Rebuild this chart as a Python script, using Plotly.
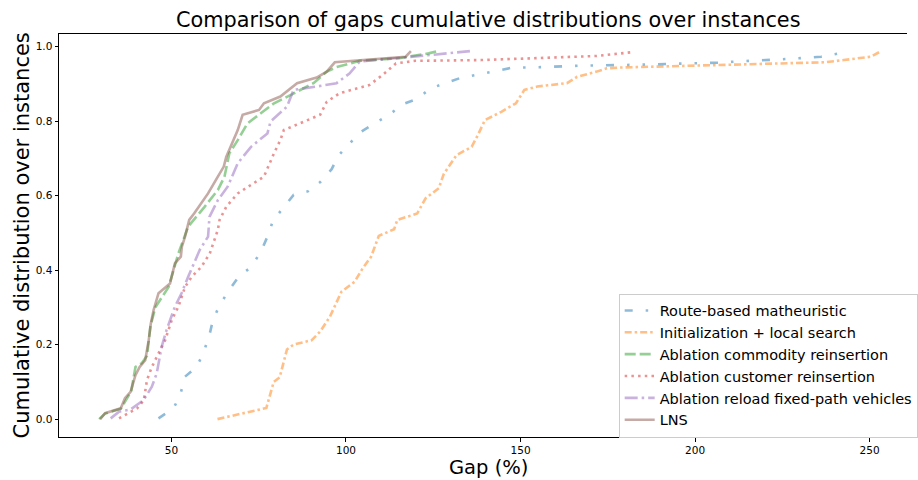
import plotly.graph_objects as go

# ---- data ----
route_x = [46.3, 50.6, 52.5, 53.9, 57.2, 59.1, 60.9, 61.9, 63.8, 66.6, 69.4, 72.7, 75.6, 77.6, 79.1, 82.0, 85.0, 89.2,
           92.7, 95.9, 97.8, 100.6, 104.4, 108.2, 112.4, 116.2, 120.4, 124.2, 129.4, 133.1, 138.4, 143.6, 147.8, 152.9,
           158.2, 167.2, 181.3, 196.9, 206.7, 211.6, 216.9, 221.3, 226.5, 231.7, 236.1, 241.3]
route_y = [0.002, 0.029, 0.064, 0.114, 0.14, 0.176, 0.226, 0.266, 0.306, 0.347, 0.384, 0.407, 0.449, 0.492, 0.533,
           0.568, 0.602, 0.612, 0.637, 0.671, 0.707, 0.736, 0.772, 0.794, 0.817, 0.845, 0.86, 0.888, 0.906, 0.917,
           0.926, 0.937, 0.944, 0.944, 0.946, 0.949, 0.951, 0.954, 0.957, 0.96, 0.962, 0.964, 0.967, 0.97, 0.973, 0.982]

init_x = [63.2, 77.2, 79.3, 81.0, 83.1, 85.0, 90.2, 92.6, 95.4, 98.7, 102.5, 104.8, 107.2, 109.4, 113.8, 114.7, 120.4,
          122.8, 126.6, 128.0, 131.7, 136.0, 137.8, 139.8, 144.5, 148.7, 151.1, 154.8, 163.3, 166.2, 171.8, 174.7,
          178.5, 208.7, 237.0, 242.6, 250.3, 253.1]
init_y = [0.0, 0.03, 0.1, 0.112, 0.187, 0.2, 0.212, 0.235, 0.275, 0.342, 0.369, 0.405, 0.436, 0.492, 0.51, 0.535, 0.552,
          0.593, 0.62, 0.658, 0.709, 0.731, 0.763, 0.803, 0.825, 0.848, 0.884, 0.893, 0.902, 0.919, 0.933, 0.942,
          0.944, 0.951, 0.958, 0.964, 0.973, 0.987]

comm_x = [29.3, 31.0, 35.5, 37.0, 38.5, 39.7, 41.5, 43.0, 44.0, 45.4, 49.2, 52.0, 54.8, 59.5, 63.3, 65.2, 66.6, 69.0,
          71.8, 75.6, 79.4, 84.1, 90.7, 94.5, 97.3, 103.9, 115.2, 123.7, 126.1]
comm_y = [0.0, 0.015, 0.028, 0.05, 0.075, 0.14, 0.15, 0.17, 0.25, 0.3, 0.355, 0.445, 0.517, 0.57, 0.615, 0.651, 0.714,
          0.749, 0.794, 0.821, 0.848, 0.87, 0.902, 0.933, 0.945, 0.962, 0.969, 0.982, 0.988]

cust_x = [35.0, 40.2, 42.1, 43.0, 44.4, 46.3, 48.2, 50.1, 52.0, 53.9, 55.8, 58.6, 61.0, 63.3, 63.8, 65.7, 69.0, 72.8,
          76.5, 79.4, 81.2, 82.2, 86.9, 92.6, 94.5, 98.2, 106.7, 110.5, 114.3, 119.9, 138.8, 167.0, 171.8, 181.8]
cust_y = [0.002, 0.029, 0.051, 0.105, 0.14, 0.176, 0.212, 0.266, 0.302, 0.355, 0.382, 0.409, 0.445, 0.508, 0.535, 0.57,
          0.606, 0.629, 0.651, 0.714, 0.749, 0.776, 0.794, 0.817, 0.852, 0.875, 0.897, 0.924, 0.955, 0.962, 0.964,
          0.973, 0.975, 0.985]

reload_x = [32.6, 35.0, 38.3, 42.0, 44.4, 45.8, 47.2, 48.6, 51.0, 52.9, 54.8, 58.1, 60.5, 60.9, 63.3, 66.1, 69.0, 72.8,
            77.5, 78.4, 83.1, 85.0, 91.6, 97.3, 101.0, 103.9, 124.6, 135.5]
reload_y = [0.002, 0.02, 0.026, 0.051, 0.087, 0.123, 0.194, 0.239, 0.302, 0.338, 0.382, 0.454, 0.49, 0.543, 0.588,
            0.624, 0.687, 0.731, 0.767, 0.799, 0.839, 0.884, 0.893, 0.902, 0.928, 0.96, 0.978, 0.988]

lns_x = [29.6, 31.0, 35.5, 36.7, 38.3, 39.7, 40.9, 42.5, 43.5, 44.1, 44.9, 46.3, 49.6, 51.0, 52.7, 53.0, 53.9, 55.1,
         56.5, 59.0, 60.5, 63.3, 65.0, 65.7, 67.0, 69.0, 70.4, 75.1, 76.5, 81.2, 86.0, 91.6, 94.5, 96.8, 117.1, 118.6]
lns_y = [0.0, 0.016, 0.029, 0.056, 0.073, 0.118, 0.14, 0.158, 0.212, 0.257, 0.293, 0.338, 0.364, 0.418, 0.436, 0.463,
         0.49, 0.535, 0.552, 0.588, 0.606, 0.651, 0.678, 0.704, 0.731, 0.776, 0.817, 0.83, 0.848, 0.866, 0.902, 0.917,
         0.933, 0.958, 0.973, 0.988]

series_names = ["Route-based matheuristic", "Initialization + local search", "Ablation commodity reinsertion",
                "Ablation customer reinsertion", "Ablation reload fixed-path vehicles", "LNS"]
x_ticks = [50, 100, 150, 200, 250]
y_ticks = [0.0, 0.2, 0.4, 0.6, 0.8, 1.0]

# ---- styling ----
colors = ["rgba(31,119,180,0.5)", "rgba(255,127,14,0.5)", "rgba(44,160,44,0.5)",
          "rgba(214,39,40,0.5)", "rgba(148,103,189,0.5)", "rgba(140,86,75,0.5)"]
dashes = ["8px,13px,2.5px,13px,2.5px,13px", "7px,3px,2.5px,3px", "11px,4px",
          "2.5px,4.2px", "13px,4px,2.5px,4px", "solid"]
FONT = "DejaVu Sans"

xs = [route_x, init_x, comm_x, cust_x, reload_x, lns_x]
ys = [route_y, init_y, comm_y, cust_y, reload_y, lns_y]

fig = go.Figure()
for name, x, y, c, d in zip(series_names, xs, ys, colors, dashes):
    fig.add_trace(go.Scatter(x=x, y=y, mode="lines", name=name,
                             line=dict(color=c, width=2.6, dash=d)))

fig.update_layout(
    width=918, height=480,
    margin=dict(l=59, r=0, t=34, b=43),
    paper_bgcolor="white", plot_bgcolor="white",
    font=dict(family=FONT, color="black"),
    showlegend=True,
    legend=dict(x=0.66, y=0.356, xanchor="left", yanchor="top",
                bgcolor="rgba(255,255,255,0.8)", bordercolor="#cccccc", borderwidth=1,
                font=dict(size=14.5, family=FONT), tracegroupgap=0),
    xaxis=dict(range=[17.8, 260.7], tickvals=x_ticks, showgrid=False, zeroline=False,
               showline=True, linecolor="black", linewidth=1, mirror=True,
               ticks="outside", ticklen=3.5, tickcolor="black", tickfont=dict(size=10.5, family=FONT)),
    yaxis=dict(range=[-0.048, 1.034], tickvals=y_ticks, tickformat=".1f", showgrid=False, zeroline=False,
               showline=True, linecolor="black", linewidth=1, mirror=False,
               ticks="outside", ticklen=3.5, tickcolor="black", tickfont=dict(size=10.5, family=FONT)),
    annotations=[
        dict(text="Comparison of gaps cumulative distributions over instances", xref="paper", yref="paper",
             x=0.506, y=1, xanchor="center", yanchor="bottom", yshift=0, showarrow=False,
             font=dict(size=20.8, family=FONT)),
        dict(text="Gap (%)", xref="paper", yref="paper", x=0.506, y=0, xanchor="center", yanchor="middle",
             yshift=-30, borderpad=0, showarrow=False, font=dict(size=19.5, family=FONT)),
        dict(text="Cumulative distribution over instances", xref="paper", yref="paper", x=0, y=0.5,
             xanchor="right", yanchor="middle", xshift=-24, textangle=-90, showarrow=False,
             font=dict(size=21, family=FONT)),
    ],
)

fig.write_html("out.html")
